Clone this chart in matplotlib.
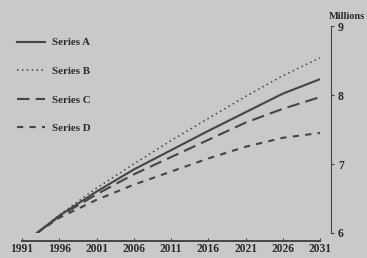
import matplotlib
matplotlib.use("Agg")
import matplotlib.pyplot as plt

# datos (millones)
years = [1993, 1996, 2001, 2006, 2011, 2016, 2021, 2026, 2031]
series_a = [6.0, 6.25, 6.60, 6.92, 7.20, 7.48, 7.75, 8.02, 8.23]
series_b = [6.0, 6.26, 6.65, 7.00, 7.34, 7.66, 7.98, 8.28, 8.54]
series_c = [6.0, 6.24, 6.56, 6.85, 7.10, 7.35, 7.60, 7.80, 7.97]
series_d = [6.0, 6.22, 6.48, 6.70, 6.89, 7.08, 7.25, 7.38, 7.45]
x_ticks = [1991, 1996, 2001, 2006, 2011, 2016, 2021, 2026, 2031]
y_ticks = [6, 7, 8, 9]

bg = "#c9c9c7"
ink = "#454545"
txt = "#2a2a2a"

plt.rcParams["font.family"] = ["Liberation Serif", "DejaVu Serif"]
plt.rcParams["font.weight"] = "bold"

fig = plt.figure(figsize=(3.67, 2.58), dpi=100, facecolor=bg)
ax = fig.add_axes([0.06, 0.097, 0.812, 0.802], facecolor=bg)

ax.plot(years, series_a, color=ink, lw=1.5, ls="-", label="Series A")
ax.plot(years, series_b, color=ink, lw=1.1, ls=(0, (1, 2.2)), label="Series B")
ax.plot(years, series_c, color=ink, lw=1.5, ls=(0, (6, 3)), label="Series C")
ax.plot(years, series_d, color=ink, lw=1.5, ls=(0, (3, 3)), label="Series D")

ax.set_xlim(1991, 2031)
ax.set_ylim(6, 9)
ax.set_xticks(x_ticks)
ax.set_yticks(y_ticks)

ax.spines["top"].set_visible(False)
ax.spines["left"].set_visible(False)
ax.spines["right"].set_position(("outward", 8))
ax.spines["bottom"].set_position(("outward", 6))
ax.spines["right"].set_color(ink)
ax.spines["bottom"].set_color(ink)
ax.spines["bottom"].set_linewidth(1.4)
ax.yaxis.tick_right()
ax.tick_params(axis="y", direction="out", length=2, width=0.8, colors=ink,
               labelcolor=txt, labelsize=8.5, pad=3)
ax.tick_params(axis="x", direction="in", length=2, width=0.8, colors=ink,
               labelcolor=txt, labelsize=8.3, pad=1)

fig.text(0.897, 0.925, "Millions", fontsize=7.5, color=txt, ha="left")

ax.legend(loc="upper left", bbox_to_anchor=(-0.05, 0.99), frameon=False,
          fontsize=7.8, handlelength=2.6, handletextpad=0.6,
          labelspacing=1.75, labelcolor=txt)

fig.savefig("out.png", dpi=100, facecolor=bg)
